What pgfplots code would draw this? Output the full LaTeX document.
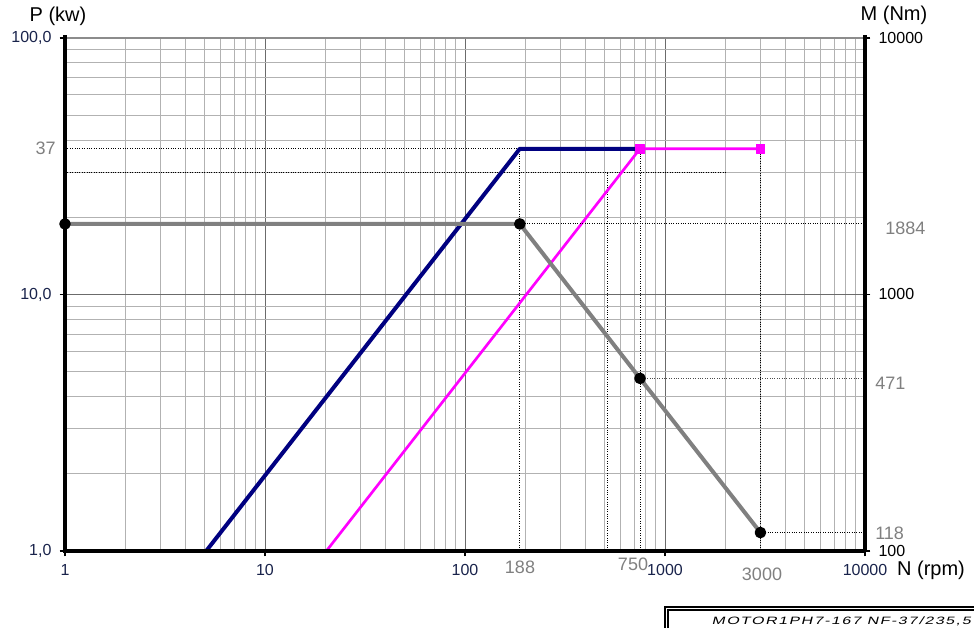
\documentclass[border=0pt]{standalone}
\usepackage{pgfplots}
\pgfplotsset{compat=1.18}
\usepackage{fontspec}
\setmainfont{Liberation Sans}
\newfontfamily\boxfont[LetterSpace=14, FakeSlant=0.25, FakeStretch=1.5]{Liberation Sans}
\definecolor{navyl}{RGB}{0,0,128}
\definecolor{mag}{RGB}{255,0,255}
\definecolor{lgray}{RGB}{128,128,128}
\definecolor{tickblue}{RGB}{25,35,75}
\newcommand\tfont{\fontsize{12}{14}\selectfont}
\newcommand\gfont{\fontsize{13.5}{15}\selectfont}
\newcommand\lfont{\fontsize{15}{17}\selectfont}
\tikzset{dots/.style={black, line width=0.7pt, dash pattern=on 0.7pt off 1.1pt}}
\begin{document}
\begin{tikzpicture}
\useasboundingbox (0pt,0pt) rectangle (730.5pt,471pt);
\begin{axis}[
  at={(48.75pt,57.75pt)}, anchor=south west,
  scale only axis, width=600pt, height=384.75pt,
  xmode=log, ymode=log,
  xmin=1, xmax=10000, ymin=1, ymax=100,
  clip=false,
  xtick={1,10,100,1000,10000},
  xticklabels={1,10,100,1000,10000},
  ytick={1,10,100},
  yticklabels={{1,0},{10,0},{100,0}},
  xtick pos=bottom, ytick pos=left,
  tick align=outside, major tick length=4pt, minor tick length=0pt,
  tick style={black, line width=1pt},
  xticklabel style={font=\tfont, text=tickblue, inner sep=0pt, anchor=north, yshift=-6pt},
  yticklabel style={font=\tfont, text=tickblue, inner sep=0pt, anchor=east, xshift=-6pt},
  grid=both,
  major grid style={draw=black!58, line width=0.6pt},
  minor grid style={draw=black!30, line width=0.75pt},
  axis line style={draw=none},
]
\draw[black!45, line width=0.8pt] (rel axis cs:0,1) -- (rel axis cs:1,1);
\addplot[dots, forget plot] coordinates {(1,37) (3000,37)};
\addplot[dots, forget plot] coordinates {(1,29.8) (2040,29.8)};
\addplot[dots, forget plot] coordinates {(513,29.8) (513,1)};
\addplot[dots, forget plot] coordinates {(188,37) (188,1)};
\addplot[dots, forget plot] coordinates {(750,37) (750,1)};
\addplot[dots, forget plot] coordinates {(3000,37) (3000,1)};
\addplot[navyl, line width=3pt, line join=round] coordinates {(5.08,1) (188,37) (750,37)};
\addplot[mag, line width=2pt, line join=round, mark=square*, mark size=3.2pt, mark indices={2,3}, mark options={fill=mag, draw=mag, line width=0.5pt}] coordinates {(20.27,1) (750,37) (3000,37)};
\draw[black, line width=2.3pt] (rel axis cs:0,1.005) -- (rel axis cs:0,0) -- (rel axis cs:1,0);
\end{axis}
\begin{axis}[
  at={(48.75pt,57.75pt)}, anchor=south west,
  scale only axis, width=600pt, height=384.75pt,
  xmode=log, ymode=log,
  xmin=1, xmax=10000, ymin=100, ymax=10000,
  clip=false,
  xtick=\empty,
  ytick={100,1000,10000},
  yticklabels={100,1000,10000},
  ytick pos=right, yticklabel pos=right,
  tick align=outside, major tick length=4pt, minor tick length=0pt,
  tick style={black, line width=1pt},
  yticklabel style={font=\tfont, text=black, inner sep=0pt, anchor=west, xshift=6pt},
  axis line style={draw=none},
]
\addplot[dots, forget plot] coordinates {(188,1884) (10000,1884)};
\addplot[dots, black!70, forget plot] coordinates {(750,471) (10000,471)};
\addplot[dots, forget plot] coordinates {(3000,118) (10000,118)};
\addplot[lgray, line width=3pt, line join=round, mark=*, mark size=2.8pt, mark options={fill=black, draw=black}] coordinates {(1,1884) (188,1884) (750,471) (3000,118)};
\draw[black, line width=2.3pt] (rel axis cs:1,0) -- (rel axis cs:1,1.005);
\end{axis}
\begin{scope}[x=0.75pt,y=0.75pt]
% axis titles
\node[font=\lfont] at (58,612) {P (kw)};
\node[font=\lfont] at (894,613) {M (Nm)};
\node[font=\lfont] at (931,58) {N (rpm)};
% marked values
\node[font=\gfont, text=lgray, anchor=east, inner sep=0pt] at (56,480) {37};
\node[font=\gfont, text=lgray, anchor=west, inner sep=0pt] at (885,400) {1884};
\node[font=\gfont, text=lgray, anchor=west, inner sep=0pt] at (875,245) {471};
\node[font=\gfont, text=lgray, anchor=west, inner sep=0pt] at (875,95) {118};
\node[font=\gfont, text=lgray, inner sep=0pt] at (520,61) {188};
\node[font=\gfont, text=lgray, inner sep=0pt] at (633,64) {750};
\node[font=\gfont, text=lgray, inner sep=0pt] at (762,54) {3000};
% title block
\draw[black, line width=0.8pt] (665,0) -- (665,21) -- (974,21);
\draw[black, line width=0.8pt] (668,0) -- (668,18) -- (974,18);
\node[anchor=base east, inner sep=0pt, font=\boxfont\fontsize{8}{9}\selectfont] at (971,3) {MOTOR1PH7-167 NF-37/235,5};
\end{scope}
\end{tikzpicture}
\end{document}
